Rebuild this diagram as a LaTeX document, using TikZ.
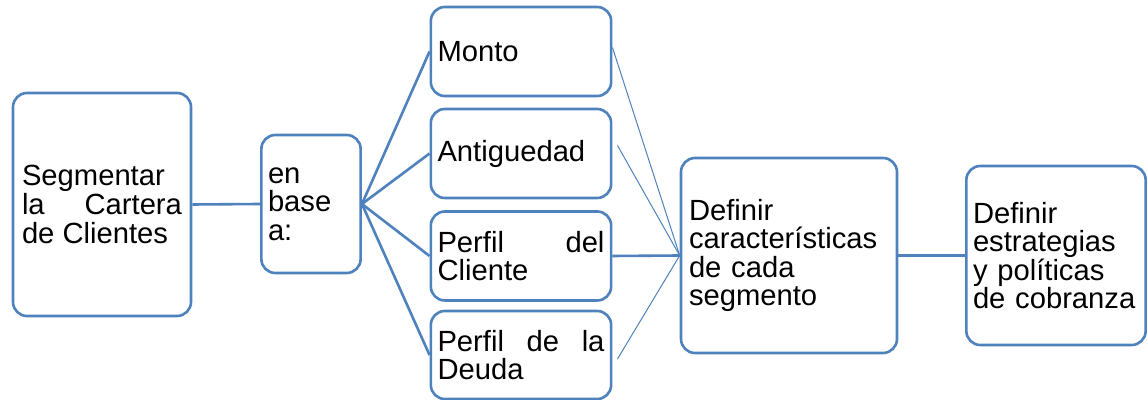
\documentclass[tikz,border=0pt]{standalone}
\usepackage{fontspec}
\setmainfont{Liberation Sans}
\definecolor{boxblue}{RGB}{79,129,189}
\tikzset{
  box/.style={rectangle, draw=boxblue, line width=1.3pt, rounded corners=7pt, inner ysep=2pt, font=\fontsize{14.6}{14.3}\selectfont},
  link/.style={draw=boxblue, line width=1.3pt},
  thinlink/.style={draw=boxblue, line width=0.5pt},
}

\begin{document}
\begin{tikzpicture}[x=0.5pt, y=-0.5pt]
  \useasboundingbox (0,0) rectangle (1148,400);
  % Nodes
  \node (seg) [box, minimum height=111.5pt, minimum width=89pt, text width=80pt, align=justify] at (102, 204.5) {Segmentar la Cartera de Clientes};
  \node (base) [box, minimum height=69pt, minimum width=49pt, text width=43pt, align=left] at (311, 204) {en\\ base\\ a:};
  \node (monto) [box, minimum height=44.5pt, minimum width=89pt, text width=83.5pt, align=justify] at (521, 51.5) {Monto};
  \node (antig) [box, minimum height=44.5pt, minimum width=89pt, text width=83.5pt, align=justify] at (521, 153.5) {Antiguedad};
  \node (pcli) [box, minimum height=44.5pt, minimum width=89pt, text width=83.5pt, align=justify] at (521, 256) {Perfil del Cliente};
  \node (pdeu) [box, minimum height=44pt, minimum width=89pt, text width=83.5pt, align=justify] at (521, 355) {Perfil de la Deuda};
  \node (defc) [box, minimum height=97.5pt, minimum width=108pt, text width=100pt, align=left] at (789, 255.5) {Definir\\ características\\ de cada\\ segmento};
  \node (defe) [box, minimum height=89.5pt, minimum width=89pt, text width=83pt, align=left] at (1056, 255.5) {Definir\\ estrategias\\ y políticas\\ de cobranza};
  % Lines
  \draw[link] (seg.east) -- (base.west);
  \draw[link] (base.east) -- (monto.west);
  \draw[link] (base.east) -- (antig.west);
  \draw[link] (base.east) -- (pcli.west);
  \draw[link] (base.east) -- (pdeu.west);
  \draw[thinlink] ([yshift=2pt]monto.east) -- (defc.west);
  \draw[thinlink] ([xshift=2.5pt, yshift=4pt]antig.east) -- (defc.west);
  \draw[link] (pcli.east) -- (defc.west);
  \draw[thinlink] ([xshift=2.5pt, yshift=-2pt]pdeu.east) -- (defc.west);
  \draw[link] (defc.east) -- (defe.west);
\end{tikzpicture}
\end{document}
